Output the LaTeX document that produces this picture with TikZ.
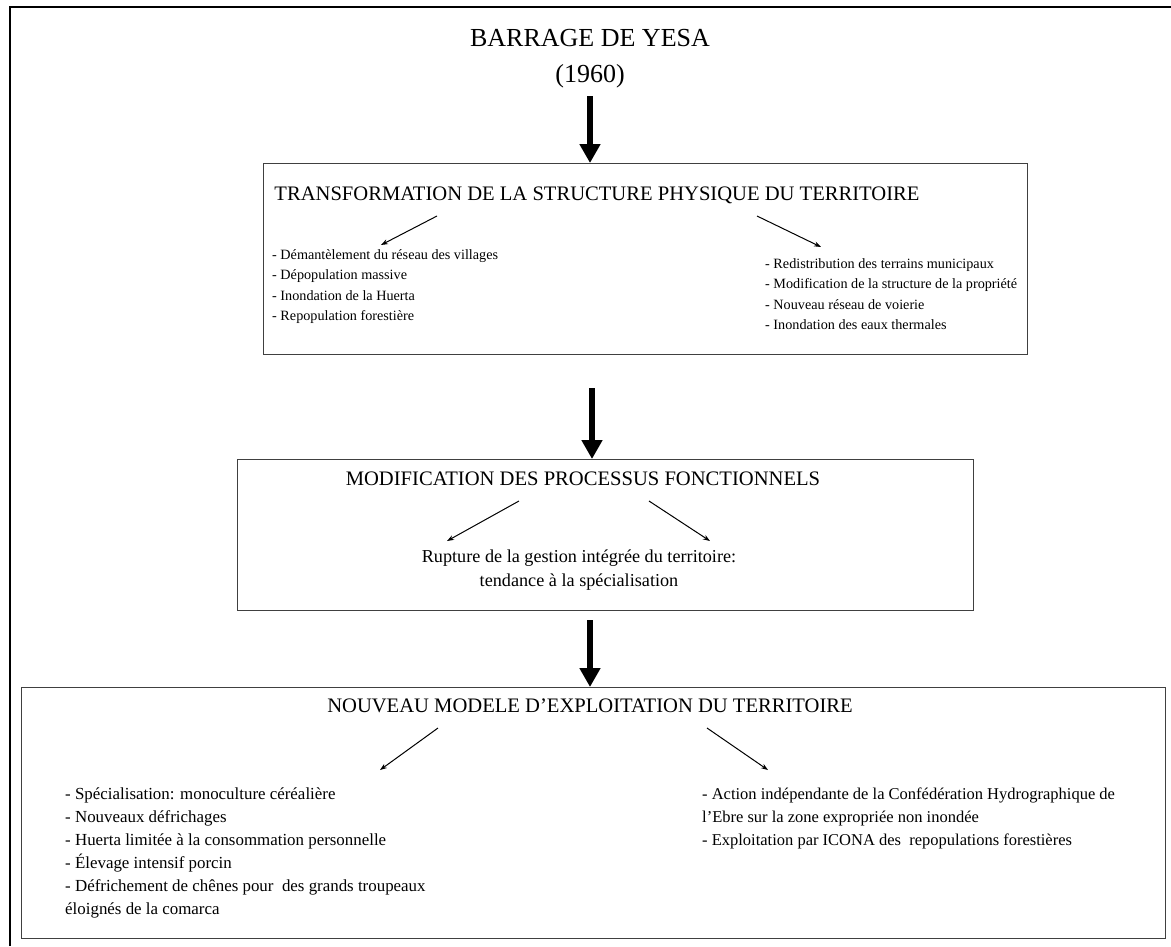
\documentclass[tikz,border=0pt]{standalone}
\usepackage{fontspec}
\setmainfont{Liberation Serif}
\usetikzlibrary{arrows.meta}
\begin{document}
\begin{tikzpicture}[x=1pt,y=-1pt,
  box/.style={draw=black!75, line width=1.3pt, inner sep=0pt, anchor=north west},
  head/.style={font=\fontsize{20.6}{24}\selectfont, inner sep=0pt},
  body/.style={font=\fontsize{14.2}{20.5}\selectfont, inner sep=0pt, align=left, anchor=north west},
  bodybig/.style={font=\fontsize{16.9}{23}\selectfont, inner sep=0pt, align=left, anchor=north west},
  bigarrow/.style={line width=6pt, -{Triangle[width=20pt,length=19pt]}},
  thinarrow/.style={line width=1pt, -{Stealth[length=7pt,width=5pt]}}]
\useasboundingbox (0,0) rectangle (1171,946);
\fill[white] (0,0) rectangle (1171,946);
\draw[line width=2.8pt] (10,946) -- (10,7) -- (1171,7);

\node[font=\fontsize{26}{28}\selectfont, inner sep=0pt] (title) at (590,38) {BARRAGE DE YESA};
\node[font=\fontsize{26}{28}\selectfont, inner sep=0pt] (year) at (590,76) {(1960)};

% box 1
\node[box, minimum width=764pt, minimum height=191pt] (b1) at (263,163) {};
\coordinate (a1) at (590,96);
\draw[bigarrow] (a1) -- (a1 |- b1.north);
\node[head] (h1) at (597,195) {TRANSFORMATION DE LA STRUCTURE PHYSIQUE DU TERRITOIRE};
\coordinate (l1s) at (437,216); \coordinate (l1e) at (381,245);
\coordinate (r1s) at (757,216); \coordinate (r1e) at (821,247);
\draw[thinarrow] (l1s) -- (l1e);
\draw[thinarrow] (r1s) -- (r1e);
\node[body] (L1) at (272,249) {- Démantèlement du réseau des villages\\- Dépopulation massive\\- Inondation de la Huerta\\- Repopulation forestière};
\node[body] (R1) at (765,258) {- Redistribution des terrains municipaux\\- Modification de la structure de la propriété\\- Nouveau réseau de voierie\\- Inondation des eaux thermales};

% box 2
\node[box, minimum width=736pt, minimum height=151pt] (b2) at (237,459) {};
\coordinate (a2) at (592,388);
\draw[bigarrow] (a2) -- (a2 |- b2.north);
\node[head] (h2) at (583,479) {MODIFICATION DES PROCESSUS FONCTIONNELS};
\coordinate (l2s) at (519,501); \coordinate (l2e) at (447,541);
\coordinate (r2s) at (649,501); \coordinate (r2e) at (710,541);
\draw[thinarrow] (l2s) -- (l2e);
\draw[thinarrow] (r2s) -- (r2e);
\node[font=\fontsize{18.2}{24}\selectfont, inner sep=0pt, align=center] (m2) at (579,570) {Rupture de la gestion intégrée du territoire:\\tendance à la spécialisation};

% box 3
\node[box, minimum width=1144pt, minimum height=251pt] (b3) at (21,687) {};
\coordinate (a3) at (590,620);
\draw[bigarrow] (a3) -- (a3 |- b3.north);
\node[head] (h3) at (590,706) {NOUVEAU MODELE D’EXPLOITATION DU TERRITOIRE};
\coordinate (l3s) at (438,728); \coordinate (l3e) at (380,770);
\coordinate (r3s) at (707,728); \coordinate (r3e) at (768,770);
\draw[thinarrow] (l3s) -- (l3e);
\draw[thinarrow] (r3s) -- (r3e);
\node[bodybig] (L3) at (65,788) {- Spécialisation: monoculture céréalière\\- Nouveaux défrichages\\- Huerta limitée à la consommation personnelle\\- Élevage intensif porcin\\- Défrichement de chênes pour\ \ des grands troupeaux\\éloignés de la comarca};
\node[bodybig, font=\fontsize{16.5}{23}\selectfont] (R3) at (702,788) {- Action indépendante de la Confédération Hydrographique de\\l’Ebre sur la zone expropriée non inondée\\- Exploitation par ICONA des\ \ repopulations forestières};
\end{tikzpicture}
\end{document}
